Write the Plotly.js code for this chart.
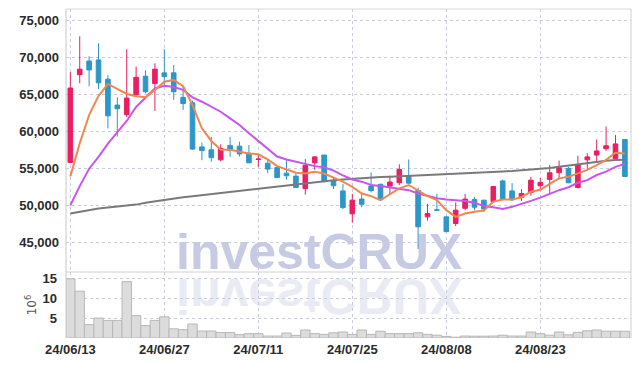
<!DOCTYPE html>
<html>
<head>
<meta charset="utf-8">
<script src="https://cdn.plot.ly/plotly-3.0.1.min.js"></script>
<style>
html,body{margin:0;padding:0;background:#fff;}
#chart{width:639px;height:366px;}
</style>
</head>
<body>
<div id="chart"></div>
<script>
const dates = [
"24/06/13","24/06/14","24/06/17","24/06/18","24/06/19","24/06/20","24/06/21","24/06/24","24/06/25","24/06/26",
"24/06/27","24/06/28","24/07/01","24/07/02","24/07/03","24/07/04","24/07/05","24/07/08","24/07/09","24/07/10",
"24/07/11","24/07/12","24/07/15","24/07/16","24/07/17","24/07/18","24/07/19","24/07/22","24/07/23","24/07/24",
"24/07/25","24/07/26","24/07/29","24/07/30","24/07/31","24/08/01","24/08/02","24/08/05","24/08/06","24/08/07",
"24/08/08","24/08/09","24/08/12","24/08/13","24/08/14","24/08/16","24/08/19","24/08/20","24/08/21","24/08/22",
"24/08/23","24/08/26","24/08/27","24/08/28","24/08/29","24/08/30","24/09/02","24/09/03","24/09/04","24/09/05"];

const tickDates = ["24/06/13","24/06/27","24/07/11","24/07/25","24/08/08","24/08/23"];

const openP = [55800,67650,69500,69650,67050,63550,62250,64950,67450,66450,
67900,67900,64600,63850,57900,57500,56150,58100,58000,57050,
56200,55700,55100,54350,53950,52250,55750,56800,53300,51950,
48850,50850,52600,52850,52600,53050,53950,52000,48450,49400,
48450,47550,49600,50800,50700,50500,53300,51950,51100,51750,
52650,53500,54400,55000,52400,56150,56800,57650,56300,58900];
const highP = [68000,72850,70150,71900,67600,64600,71100,68750,68250,69200,
71100,68950,66100,64150,58500,59250,58250,59250,58600,58150,
56800,56200,55150,56250,54350,56250,56650,56800,53700,52900,
51550,51550,54450,52900,54000,55550,56200,52400,50200,51550,
48500,50400,51550,51150,50750,52600,53500,53000,52200,53850,
53700,55450,56050,55200,56700,57050,58900,60650,59500,58900];
const lowP = [55700,66500,66100,65700,60400,59300,61900,64800,65150,62750,
66050,64250,62900,57500,56100,55900,55950,56550,56600,55700,
55200,54350,53700,53500,52400,51450,54800,53200,52200,49500,
47650,49750,51750,50700,51400,52750,52950,44100,47950,49300,
46400,47200,49350,49350,49100,50400,50700,50600,50600,51300,
52050,51400,53650,53000,52300,54700,56000,57400,56100,53850];
const closeP = [65850,68400,68300,66550,62100,63050,64500,67300,65350,68400,
67400,65350,63750,57600,57400,56450,57700,57450,56950,55750,
56250,54900,53750,54000,52400,55400,56550,53200,52650,49700,
50700,50150,52000,50750,53150,54850,53000,47100,48900,49350,
46450,49350,50850,49750,49500,52550,50800,50750,51600,53400,
53100,54400,55100,53050,55450,56550,57350,58050,58300,53900];

const maShort = [53900,58400,62200,64800,66400,65700,65050,64750,64600,65600,
66700,66950,66100,63550,60400,58700,57500,57500,57200,57000,
56900,56200,55300,54850,54400,54300,54550,54300,53800,53200,
52500,51600,51250,50700,51500,52300,52750,51950,51250,50700,
49350,48450,48900,49150,49300,50500,50800,50800,51100,51850,
52100,52900,53650,53850,54300,54800,55450,56150,57100,57000];
const maMid = [50000,52600,54950,56550,58350,59950,61400,63300,64500,65800,
66150,66000,65600,64600,64000,63350,62650,61750,60850,59750,
58700,57700,56600,56200,55900,55600,55300,55150,54700,54050,
53500,53200,52750,52600,52450,52300,52050,51600,51300,50950,
50800,50700,50600,50350,49900,49750,49500,49800,50150,50600,
51050,51600,52050,52450,53050,53400,54100,54550,55200,55600];
const maLong = [48900,49130,49340,49560,49700,49830,49960,50100,50350,50550,
50740,50910,51080,51230,51380,51530,51670,51800,51930,52050,
52200,52350,52500,52670,52840,53000,53160,53300,53400,53500,
53600,53700,53780,53830,53880,53930,53980,54050,54130,54210,
54260,54300,54350,54390,54440,54510,54580,54640,54730,54850,
54980,55050,55220,55390,55550,55710,55870,56020,56130,56150];

const volume = [14.8,11.7,3.35,5.0,4.4,4.4,14.1,5.6,3.1,4.4,
5.3,2.3,2.1,3.5,1.75,1.75,1.35,1.35,0.85,1.1,
1.1,0.5,0.5,1.25,0.65,2.0,1.1,0.9,1.3,1.5,
0.9,2.0,0.9,1.7,1.1,1.1,1.1,1.3,0.9,0.7,
0.4,0.2,0.5,0.45,0.45,0.5,0.7,0.5,0.5,1.5,
1.1,0.7,1.5,0.8,1.4,1.8,2.0,1.7,1.7,1.7];

const upColor = '#E91E63';
const downColor = '#2E96C8';
const tickFont = {family:'"Liberation Sans", Arial, sans-serif', size:13, color:'#2b2b2b', weight:'bold'};
const gridCol = '#c9cce0';

const traces = [
  {type:'bar', x:dates, y:volume, yaxis:'y2', xaxis:'x',
   marker:{color:'#dcdcdc', line:{color:'#b8b8b8', width:1}}, hoverinfo:'skip'},
  {type:'scatter', mode:'lines', x:dates, y:maLong, line:{color:'#7a7a7a', width:2}, hoverinfo:'skip'},
  {type:'scatter', mode:'lines', x:dates, y:maMid, line:{color:'#C855EE', width:2}, hoverinfo:'skip'},
  {type:'scatter', mode:'lines', x:dates, y:maShort, line:{color:'#F0874E', width:2}, hoverinfo:'skip'},
  {type:'candlestick', x:dates, open:openP, high:highP, low:lowP, close:closeP,
   increasing:{line:{color:upColor, width:1}, fillcolor:upColor},
   decreasing:{line:{color:downColor, width:1}, fillcolor:downColor},
   whiskerwidth:0, hoverinfo:'skip'}
];

const layout = {
  width:639, height:366,
  margin:{l:66, r:8, t:9, b:28},
  paper_bgcolor:'#fff', plot_bgcolor:'#fff',
  showlegend:false,
  bargap:0,
  xaxis:{type:'category', range:[-0.46, 59.65], anchor:'y2',
    tickvals:tickDates, ticktext:tickDates, tickfont:tickFont,
    showgrid:true, gridcolor:gridCol, griddash:'dot', gridwidth:1,
    showline:false, zeroline:false, ticks:'', ticklabelstandoff:2, rangeslider:{visible:false}, fixedrange:true},
  yaxis:{domain:[0.2006,1], range:[40995, 76530], anchor:'x',
    tickvals:[45000,50000,55000,60000,65000,70000,75000], tickformat:',d',
    tickfont:tickFont, showgrid:true, gridcolor:gridCol, griddash:'dot', gridwidth:1,
    zeroline:false, showline:false, ticks:'', ticklabelstandoff:6},
  yaxis2:{domain:[0,0.2006], range:[0,16.5], anchor:'x',
    tickvals:[5,10,15], tickfont:tickFont,
    title:{text:'10<sup>6</sup>', font:{family:'DejaVu Sans', size:12, color:'#555'}, standoff:3},
    showgrid:true, gridcolor:gridCol, griddash:'dot', gridwidth:1,
    zeroline:false, showline:false, ticks:'', ticklabelstandoff:8},
  shapes:[
    {type:'line', xref:'paper', yref:'paper', x0:0, x1:0, y0:0, y1:1, line:{color:'#c8c8c8', width:1}},
    {type:'line', xref:'paper', yref:'paper', x0:1, x1:1, y0:0, y1:1, line:{color:'#d0d0d0', width:1}},
    {type:'line', xref:'paper', yref:'paper', x0:0, x1:1, y0:1, y1:1, line:{color:'#d8d8d8', width:1}},
    {type:'line', xref:'paper', yref:'paper', x0:0, x1:1, y0:0.2006, y1:0.2006, line:{color:'#d0d0d0', width:1}}
  ],
  annotations:[
    {text:'investCRUX', xref:'paper', yref:'paper', x:0.447, y:0.262, xanchor:'center', yanchor:'middle',
     showarrow:false, font:{family:'"Liberation Sans", Arial, sans-serif', size:50, weight:'bold', color:'#c6cbe3'}},
    {text:'investCRUX', xref:'paper', yref:'paper', x:0.447, y:0.128, xanchor:'center', yanchor:'middle',
     showarrow:false, font:{family:'"Liberation Sans", Arial, sans-serif', size:50, weight:'bold', color:'#e8eaf4'}}
  ]
};

Plotly.newPlot('chart', traces, layout, {staticPlot:true, displayModeBar:false}).then(function(gd){
  const anns = gd.querySelectorAll('g.annotation');
  if (anns.length > 1) {
    const g = anns[1];
    g.style.transformBox = 'fill-box';
    g.style.transformOrigin = '50% 50%';
    g.style.transform = 'scaleY(-1)';
  }
  const mainSvg = gd.querySelector('svg.main-svg');
  const cl = mainSvg && mainSvg.querySelector('.cartesianlayer');
  if (cl) {
    anns.forEach(function(a){ cl.parentNode.insertBefore(a, cl); });
  }
});
</script>
</body>
</html>
